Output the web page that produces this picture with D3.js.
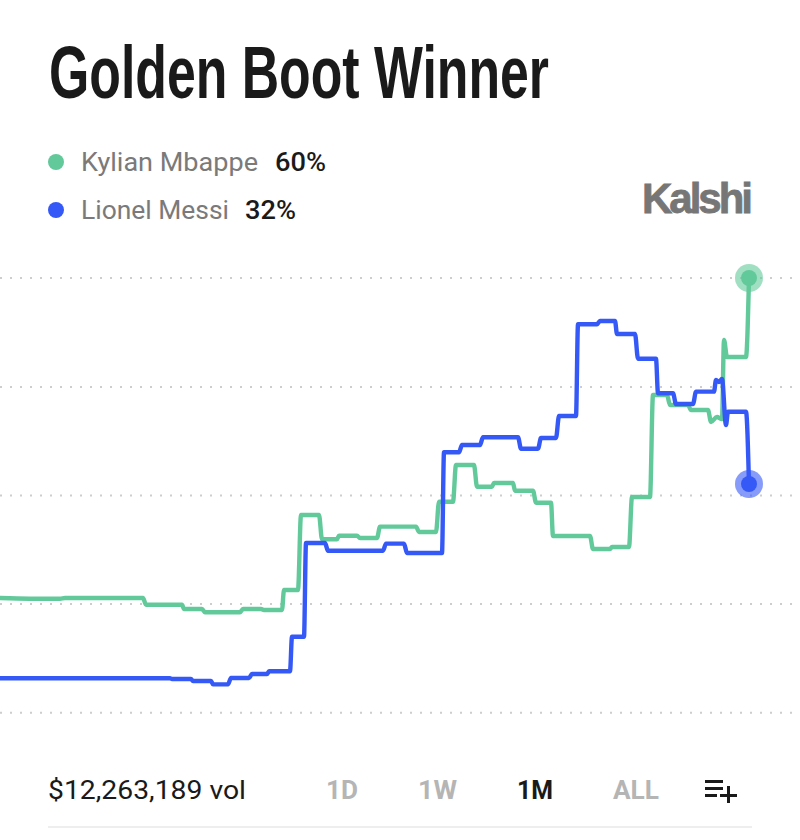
<!DOCTYPE html>
<html>
<head>
<meta charset="utf-8">
<script src="https://cdn.jsdelivr.net/npm/d3@7"></script>
<style>
  html, body { margin: 0; padding: 0; background: #fff; }
  svg { display: block; }
  text { font-family: Roboto, Inter, "Noto Sans", sans-serif; }
</style>
</head>
<body>
<svg id="chart" width="800" height="840"></svg>
<script>
// Market prices, in percent, against hours into the one-month window.
const mbappeHours = [0,30,60,65,143,146,182,184,202,205,240,243,261,264,282,284,298,301,319,322,337,339,357,360,377,380,416,419,436,439,453,456,474,477,492,494,513,515,533,536,551,553,590,593,610,612,629,632,650,653,667,670,688,691,708,711,717,722,724,727,746,749];
const mbappeValues = [16.5,16.41,16.41,16.5,16.5,15.59,15.59,15.01,15.01,14.56,14.56,15.01,15.01,14.87,14.87,17.59,17.59,27.79,27.79,24.48,24.48,24.97,24.97,24.66,24.66,26.2,26.2,25.48,25.48,29.59,29.59,34.58,34.58,31.63,31.63,32.14,32.14,31.09,31.09,29.46,29.46,24.93,24.93,23.16,23.16,23.44,23.44,30.23,30.23,44.1,44.1,42.74,42.74,42.06,42.06,40.43,41.11,40.83,51.57,49.26,49.26,60];
const messiHours = [0,170,172,191,193,211,213,228,231,249,252,267,269,290,292,304,306,325,328,383,386,404,407,442,444,459,462,480,483,518,521,538,541,556,559,576,578,597,600,615,617,635,638,656,658,673,676,693,696,714,716,719,722,726,728,746,749];
const messiValues = [5.59,5.59,5.49,5.49,5.22,5.22,4.77,4.77,5.63,5.63,6.17,6.17,6.54,6.54,11.24,11.24,23.98,23.98,22.93,22.93,23.89,23.89,22.62,22.62,36.31,36.31,37.3,37.3,38.35,38.35,36.8,36.8,38.25,38.25,41.24,41.24,53.71,53.71,54.16,54.16,52.39,52.39,49.03,49.03,44.33,44.33,42.87,42.87,44.55,44.55,46.14,45.86,46.27,40.02,41.83,41.83,32];
const gridValues = [60, 45.2, 30.45, 15.7, 0.9];

const seriesNames = ["Kylian Mbappe", "Lionel Messi"];
const seriesLabels = ["60%", "32%"];
const rangeTabs = ["1D", "1W", "1M", "ALL"];
const activeTab = "1M";

const GREEN = "#62c99a";
const BLUE = "#3559f6";
const INK = "#1a1a1a";

const svg = d3.select("#chart");
const x = d3.scaleLinear().domain([0, 749]).range([0, 749]);
const y = d3.scaleLinear().domain([0, 60]).range([719.42, 278]);

// Fits a string to a measured width so the narrower display face keeps its proportions.
function label(txt, px, py, size, weight, fill, width) {
  const t = svg.append("text").attr("x", px).attr("y", py)
    .attr("font-size", size).attr("font-weight", weight).attr("fill", fill).text(txt);
  if (width) t.attr("textLength", width).attr("lengthAdjust", "spacingAndGlyphs");
  return t;
}

// Heading
label("Golden Boot Winner", 49, 98, 75, 700, INK, 500)
  .style("font-family", '"Liberation Sans Narrow", "Liberation Sans", sans-serif');

// Legend
const legendRows = [
  { y: 162, color: GREEN, nameW: 177, valX: 275, valW: 51 },
  { y: 210, color: BLUE, nameW: 148, valX: 245, valW: 51 }
];
legendRows.forEach((row, i) => {
  svg.append("circle").attr("cx", 56).attr("cy", row.y).attr("r", 8).attr("fill", row.color);
  label(seriesNames[i], 81, row.y + 8.5, 25, 400, "#7a7a7a", row.nameW);
  label(seriesLabels[i], row.valX, row.y + 8.5, 25, 500, INK, row.valW);
});

// Brand mark, tightly tracked
label("Kalshi", 642, 213, 42, 700, "#767676")
  .style("font-family", '"Liberation Sans", sans-serif')
  .style("letter-spacing", "-3px")
  .attr("stroke", "#767676").attr("stroke-width", 0.8);

// Dotted gridlines
svg.append("g").selectAll("line").data(gridValues).join("line")
  .attr("x1", 0).attr("x2", 796)
  .attr("y1", d => y(d)).attr("y2", d => y(d))
  .attr("stroke", "#cdcdcd").attr("stroke-width", 2)
  .attr("stroke-dasharray", "2 8");

// Price lines
const line = d3.line().x(d => x(d[0])).y(d => y(d[1])).curve(d3.curveMonotoneX);
const series = [
  { hours: mbappeHours, values: mbappeValues, color: GREEN },
  { hours: messiHours, values: messiValues, color: BLUE }
];
series.forEach(s => {
  svg.append("path").datum(d3.zip(s.hours, s.values)).attr("d", line)
    .attr("fill", "none").attr("stroke", s.color).attr("stroke-width", 4.4)
    .attr("stroke-linejoin", "round").attr("stroke-linecap", "round");
});

// Latest-price markers with a halo
series.forEach(s => {
  const hx = x(s.hours[s.hours.length - 1]);
  const hy = y(s.values[s.values.length - 1]);
  svg.append("circle").attr("cx", hx).attr("cy", hy).attr("r", 14)
    .attr("fill", s.color).attr("fill-opacity", 0.6);
  svg.append("circle").attr("cx", hx).attr("cy", hy).attr("r", 8).attr("fill", s.color);
});

// Footer: volume, range tabs, add-to-list icon, rule
label("$12,263,189 vol", 48, 799, 25, 400, INK, 198);
const tabBoxes = [[326, 32], [418, 39], [517, 36], [613, 46]];
rangeTabs.forEach((tab, i) => {
  label(tab, tabBoxes[i][0], 799, 25, 700, tab === activeTab ? INK : "#b5b5b5", tabBoxes[i][1]);
});
const icon = svg.append("g").attr("fill", INK);
[[705, 780, 18, 3], [705, 787, 18, 3], [705, 794, 12, 3], [720, 794, 17, 3], [727, 786, 3, 17]].forEach(r => {
  icon.append("rect").attr("x", r[0]).attr("y", r[1]).attr("width", r[2]).attr("height", r[3]);
});
svg.append("line").attr("x1", 48).attr("x2", 752).attr("y1", 827).attr("y2", 827)
  .attr("stroke", "#eeeeee").attr("stroke-width", 2);
</script>
</body>
</html>
